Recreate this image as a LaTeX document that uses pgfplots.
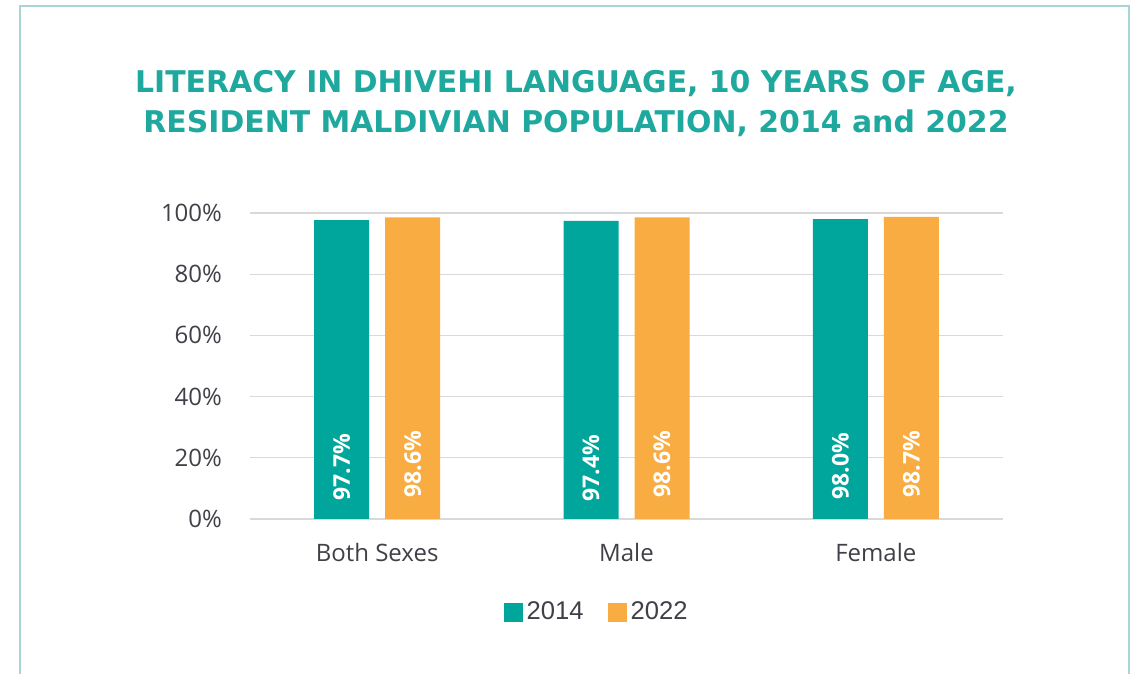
\documentclass[border=0pt]{standalone}
\usepackage{pgfplots}
\pgfplotsset{compat=1.18}
\usepackage{fontspec}
\setmainfont{Open Sans}
\newfontfamily\titlefont{DejaVu Sans}
\newfontfamily\legfont{Liberation Sans}
\definecolor{teal14}{HTML}{00A69B}
\definecolor{orange22}{HTML}{F9AC42}
\definecolor{titleteal}{HTML}{1EA89E}
\definecolor{framec}{HTML}{A9D6D4}
\definecolor{ticktext}{HTML}{404048}
\definecolor{gridc}{HTML}{D9D9D9}
\begin{document}
\begin{tikzpicture}
\useasboundingbox (0,0) rectangle (570pt,337pt);
\draw[framec, line width=1pt] (10pt,-5pt) -- (10pt,334pt) -- (564.5pt,334pt) -- (564.5pt,-5pt);
\node[anchor=base, text=titleteal, font=\titlefont\bfseries\fontsize{14.95}{19}\selectfont] at (288pt,290.5pt) {LITERACY IN DHIVEHI LANGUAGE, 10 YEARS OF AGE,};
\node[anchor=base, text=titleteal, font=\titlefont\bfseries\fontsize{14.95}{19}\selectfont] at (288pt,270.5pt) {RESIDENT MALDIVIAN POPULATION, 2014 and 2022};
\begin{axis}[
  at={(125pt,77.5pt)}, anchor=south west,
  scale only axis, width=376.5pt, height=153pt,
  ybar=8pt, bar width=27.5pt,
  xmin=-0.51, xmax=2.51, ymin=0, ymax=100,
  xtick=data, xticklabels={Both Sexes, Male, Female},
  ytick={0,20,40,60,80,100},
  yticklabels={0\%,20\%,40\%,60\%,80\%,100\%},
  axis line style={draw=none},
  major tick length=0pt,
  ymajorgrids, grid style={gridc, line width=0.6pt},
  tick label style={text=ticktext, font=\fontsize{12}{14}\selectfont},
  yticklabel style={xshift=-10.5pt},
  xticklabel style={yshift=-8.5pt},
  legend style={at={(0.4616,-0.305)}, anchor=center, draw=none, legend columns=2,
    font=\legfont\fontsize{12.8}{14}\selectfont, text=ticktext,
    /tikz/every even column/.append style={column sep=10pt}},
  legend image code/.code={\fill[#1] (-1.5pt,-4.75pt) rectangle (8pt,4.75pt);},
  legend cell align=left,
  nodes near coords,
  point meta=explicit symbolic,
  every node near coord/.append style={anchor=center, yshift=-123.5pt, rotate=90, text=white, font=\bfseries\fontsize{11.5}{13}\selectfont},
]
\addplot[fill=teal14, draw=none] table[meta=label] {
x y label
0 97.7 97.7\%
1 97.4 97.4\%
2 98.0 98.0\%
};
\addplot[fill=orange22, draw=none] table[meta=label] {
x y label
0 98.6 98.6\%
1 98.6 98.6\%
2 98.7 98.7\%
};
\legend{2014,2022}
\end{axis}
\end{tikzpicture}
\end{document}
